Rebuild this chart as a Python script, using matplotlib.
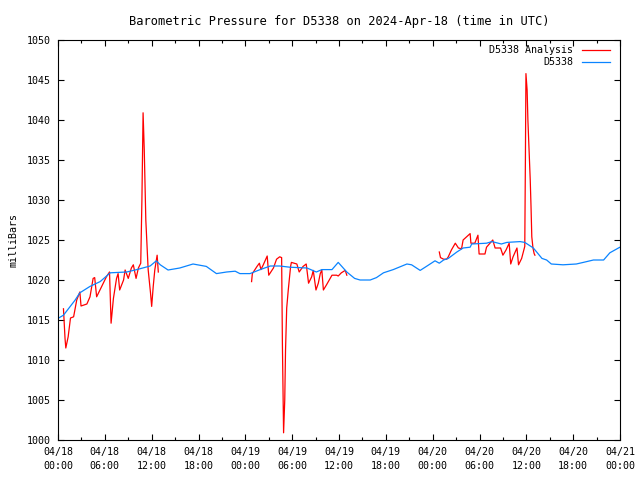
import matplotlib
matplotlib.use("Agg")
import matplotlib.pyplot as plt
import numpy as np

nan = np.nan

# hours since 2024-04-18 00:00 UTC
analysis_hours = [0.7, 0.9, 1.0, 1.3, 1.6, 2.0, 2.4, 2.8, 2.95, 3.7, 4.1, 4.5, 4.7, 4.95, 5.4, 5.8,
                  6.2, 6.6, 6.8, 7.1, 7.5, 7.7, 7.9, 8.4, 8.6, 9.0, 9.4, 9.65, 10.0, 10.3, 10.6,
                  10.75, 10.9, 11.05, 11.25, 11.55, 11.85, 12.0, 12.2, 12.4, 12.7, 12.85,
                  13.0,
                  24.8, 24.9, 25.5, 25.8, 26.0, 26.3, 26.8, 27.0, 27.6, 28.0, 28.4, 28.65, 28.75,
                  28.9, 29.05, 29.15, 29.3, 29.5, 29.8, 29.9, 30.6, 30.9, 31.4, 31.8, 32.1, 32.5,
                  32.7, 33.05, 33.35, 33.6, 33.8, 34.0, 34.4, 35.1, 35.7, 35.9, 36.3, 36.8, 37.0,
                  37.2,
                  48.85, 49.0, 49.4, 49.8, 50.0, 50.4, 50.9, 51.3, 51.7, 51.9, 52.8, 52.9, 53.4,
                  53.8, 53.95, 54.7, 54.9, 55.7, 56.0, 56.7, 57.0, 57.4, 57.8, 58.0, 58.3, 58.8,
                  59.0, 59.4, 59.8, 59.88, 59.95, 60.1, 60.2, 60.35, 60.5, 60.6, 60.7, 60.85,
                  61.0, 61.1]
# nan entries break the line where the analysis has no data
analysis_mb = [1016.4, 1012.7, 1011.5, 1012.9, 1015.25, 1015.4, 1017.5, 1018.5, 1016.75, 1017.0,
               1017.9, 1020.2, 1020.3, 1017.9, 1018.8, 1019.6, 1020.4, 1021.0, 1014.6, 1017.7,
               1020.2, 1020.8, 1018.75, 1020.0, 1021.25, 1020.2, 1021.5, 1021.9, 1020.2, 1021.5,
               1022.1, 1030.0, 1040.9, 1036.3, 1027.5, 1021.3, 1018.4, 1016.7, 1019.2, 1021.25,
               1023.1, 1021.0,
               nan,
               1019.8, 1020.8, 1021.7, 1022.1, 1021.3, 1021.9, 1023.0, 1020.6, 1021.5, 1022.6,
               1022.9, 1022.8, 1011.9, 1000.9, 1005.0, 1011.25, 1016.5, 1018.75, 1021.7, 1022.2,
               1022.0, 1021.0, 1021.7, 1022.0, 1019.6, 1020.4, 1021.2, 1018.75, 1019.6, 1020.8,
               1021.25, 1018.75, 1019.4, 1020.6, 1020.6, 1020.5, 1020.9, 1021.2, 1020.6,
               nan,
               1023.5, 1022.8, 1022.6, 1022.6, 1022.9, 1023.75, 1024.6, 1024.0, 1023.9, 1025.0,
               1025.8, 1024.6, 1024.6, 1025.6, 1023.25, 1023.25, 1024.1, 1025.0, 1024.0, 1024.0,
               1023.1, 1023.75, 1024.6, 1022.0, 1022.9, 1024.0, 1021.9, 1022.7, 1024.2, 1035.0,
               1045.8, 1043.75, 1040.0, 1036.25, 1032.5, 1029.2, 1025.4, 1024.0, 1023.3, 1023.1]

station_hours = [0, 0.7, 2.2, 2.8, 4.1, 5.4, 6.7, 8.8, 10.1, 11.8, 12.6, 13.1, 14.1, 15.6, 17.3,
                 19.0, 20.3, 21.6, 22.7, 23.3, 24.6, 25.9, 27.2, 28.4, 29.7, 31.9, 33.1, 33.8,
                 35.1, 35.9, 37.0, 38.0, 38.7, 40.0, 40.8, 41.7, 42.95, 44.7, 45.3, 46.4, 47.2,
                 48.3, 48.85, 49.4, 50.0, 51.1, 51.9, 52.8, 53.0, 54.9, 55.6, 56.8, 57.5, 59.2,
                 59.8, 60.9, 62.0, 62.6, 63.2, 64.7, 66.4, 67.3, 68.6, 69.9, 70.7, 71.8, 72.0]
station_mb = [1015.2, 1015.6, 1017.5, 1018.4, 1019.2, 1019.8, 1020.9, 1021.0, 1021.3, 1021.75,
              1022.4, 1021.9, 1021.25, 1021.5, 1022.0, 1021.7, 1020.8, 1021.0, 1021.1, 1020.8,
              1020.8, 1021.3, 1021.75, 1021.75, 1021.6, 1021.5, 1021.0, 1021.3, 1021.3, 1022.2,
              1021.0, 1020.2, 1020.0, 1020.0, 1020.3, 1020.9, 1021.3, 1022.0, 1021.9, 1021.2,
              1021.7, 1022.4, 1022.1, 1022.5, 1022.7, 1023.5, 1024.0, 1024.1, 1024.5, 1024.6,
              1024.8, 1024.5, 1024.7, 1024.8, 1024.7, 1024.0, 1022.7, 1022.5, 1022.0, 1021.9,
              1022.0, 1022.2, 1022.5, 1022.5, 1023.4, 1024.0, 1024.1]

tick_hours = list(range(0, 73, 6))
tick_labels = ["04/18\n00:00", "04/18\n06:00", "04/18\n12:00", "04/18\n18:00",
               "04/19\n00:00", "04/19\n06:00", "04/19\n12:00", "04/19\n18:00",
               "04/20\n00:00", "04/20\n06:00", "04/20\n12:00", "04/20\n18:00",
               "04/21\n00:00"]

plt.rcParams["font.family"] = "DejaVu Sans Mono"
plt.rcParams["font.size"] = 7.2

fig = plt.figure(figsize=(6.4, 4.8), dpi=100)
ax = fig.add_axes([58 / 640, 40 / 480, 562 / 640, 400 / 480])

red = "#ff0000"
blue = "#0a84ff"

ax.plot(analysis_hours, analysis_mb, color=red, lw=0.9)
ax.plot(station_hours, station_mb, color=blue, lw=0.9)

ax.set_xlim(0, 72)
ax.set_ylim(1000, 1050)
ax.set_xticks(tick_hours)
ax.set_xticklabels(tick_labels, linespacing=1.55)
ax.set_xticks(list(range(3, 72, 6)), minor=True)
ax.set_yticks(range(1000, 1051, 5))

ax.tick_params(which="both", direction="in", top=True, right=True, color="black", width=0.8)
ax.tick_params(which="major", length=4.5, pad=5)
ax.tick_params(which="minor", length=2.5)
for s in ax.spines.values():
    s.set_linewidth(0.8)

ax.set_ylabel("milliBars", labelpad=6)
ax.set_title("Barometric Pressure for D5338 on 2024-Apr-18 (time in UTC)", pad=11)

# gnuplot-style key: label right-aligned, then sample line
ax.text(0.9164, 0.975, "D5338 Analysis", transform=ax.transAxes, ha="right", va="center")
ax.plot([0.932, 0.982], [0.975, 0.975], color=red, lw=0.9, transform=ax.transAxes)
ax.text(0.9164, 0.945, "D5338", transform=ax.transAxes, ha="right", va="center")
ax.plot([0.932, 0.982], [0.945, 0.945], color=blue, lw=0.9, transform=ax.transAxes)

fig.savefig("out.png", dpi=100)
